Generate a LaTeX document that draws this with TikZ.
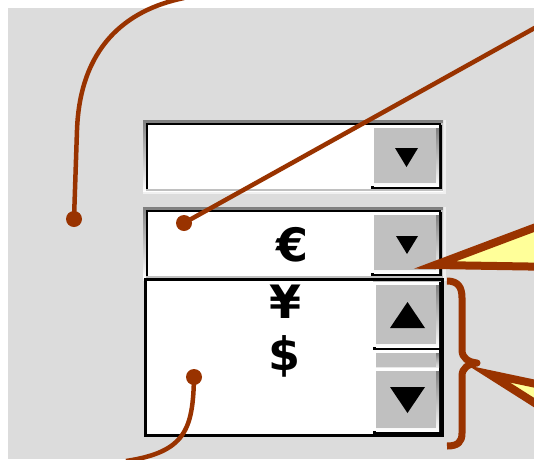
\documentclass[tikz,border=0pt]{standalone}
\usepackage{fontspec}
\newfontfamily\symfont{DejaVu Sans}
\definecolor{bg}{HTML}{DCDCDC}
\definecolor{btn}{HTML}{C0C0C0}
\definecolor{shade}{HTML}{808080}
\definecolor{hil}{HTML}{F0F0F0}
\definecolor{brn}{HTML}{993300}
\definecolor{yel}{HTML}{FFFF99}
\newcommand{\rbtn}[4]{%
 \fill[black] (#1,#2) rectangle (#3,#4);
 \fill[white] (#1,#2) rectangle ({#3-3},{#4-3});
 \fill[shade] ({#1+3},{#2+3}) rectangle ({#3-3},{#4-3});
 \fill[btn] ({#1+3},{#2+3}) rectangle ({#3-6},{#4-6});}
\newcommand{\sfield}[4]{%
 \fill[hil] (#1,#2) rectangle (#3,#4);
 \fill[shade] (#1,#2) rectangle ({#3-3},{#4-3});
 \fill[btn] ({#1+3},{#2+3}) rectangle ({#3-3},{#4-3});
 \fill[black] ({#1+3},{#2+3}) rectangle ({#3-5},{#4-5});
 \fill[white] ({#1+5},{#2+5}) rectangle ({#3-5},{#4-5});}
\tikzset{
  conn/.style={draw=brn, line width=4.5pt},
  dot/.style={circle, fill=brn, inner sep=0pt, minimum size=16pt},
  callout/.style={draw=brn, fill=yel, line width=8pt, line join=miter},
  brace/.style={draw=brn, line width=7pt, line join=round},
  sym/.style={inner sep=0pt, font=\symfont\bfseries\fontsize{46}{46}\selectfont},
}
\begin{document}
\begin{tikzpicture}[x=1pt, y=-1pt]
\useasboundingbox (0,0) rectangle (534,459);
\clip (0,0) rectangle (534,459);
\fill[white] (0,0) rectangle (534,459);
\fill[bg] (8,8) rectangle (534,459);
% top combobox
\sfield{143}{120}{446}{194}
\rbtn{371}{125}{442}{189}
\fill[black] (395,148) -- (418,148) -- (406.5,167) -- cycle;
% second combobox
\sfield{143}{207}{446}{281}
\rbtn{371}{212}{442}{276}
\fill[black] (396,236) -- (418,236) -- (407,254) -- cycle;
\node[sym] (euro) at (292,245) {€};
% drop-down list
\fill[black] (144,278) rectangle (444,437);
\fill[white] (147,281) rectangle (441,434);
\fill[btn] (373,281) rectangle (441,434);
\rbtn{373}{350}{442}{373}
\rbtn{373}{282}{442}{350}
\rbtn{373}{368}{442}{434}
\fill[black] (390,328) -- (425,328) -- (407.5,302) -- cycle;
\fill[black] (390,387) -- (425,387) -- (407.5,413) -- cycle;
\node[sym] (yen) at (285,302) {¥};
\node[sym] (dollar) at (284.5,356) {\$};
% connectors
\coordinate (e1) at (184,-2);
\coordinate (k1) at (77,130);
\node[dot] (d1) at (74,219) {};
\draw[conn] (e1) .. controls (125,10) and (80,48) .. (k1) -- (d1.center);
\node[dot] (d2) at (184,223) {};
\coordinate (e2) at (540,25);
\draw[conn] (d2.center) -- (e2);
\node[dot] (d3) at (194,377) {};
\coordinate (e3) at (126,461);
\draw[conn] (d3.center) .. controls (193,430) and (185,452) .. (e3);
% brace
\coordinate (b1) at (447,281);
\coordinate (b2) at (477,363);
\coordinate (b3) at (447,446);
\draw[brace] (b1) .. controls (458,281) and (462,287) .. (462,298) -- (462,350)
  .. controls (462,358) and (468,362) .. (b2)
  .. controls (468,364) and (462,368) .. (462,376) -- (462,433)
  .. controls (462,442) and (458,446) .. (b3);
% callouts
\coordinate (t1a) at (435,265);
\coordinate (t1b) at (560,218);
\coordinate (t1c) at (560,267);
\draw[callout] (t1a) -- (t1b) -- (t1c) -- cycle;
\coordinate (t2a) at (489,374);
\coordinate (t2b) at (560,389);
\coordinate (t2c) at (560,419);
\draw[callout] (t2a) -- (t2b) -- (t2c) -- cycle;
\end{tikzpicture}
\end{document}
